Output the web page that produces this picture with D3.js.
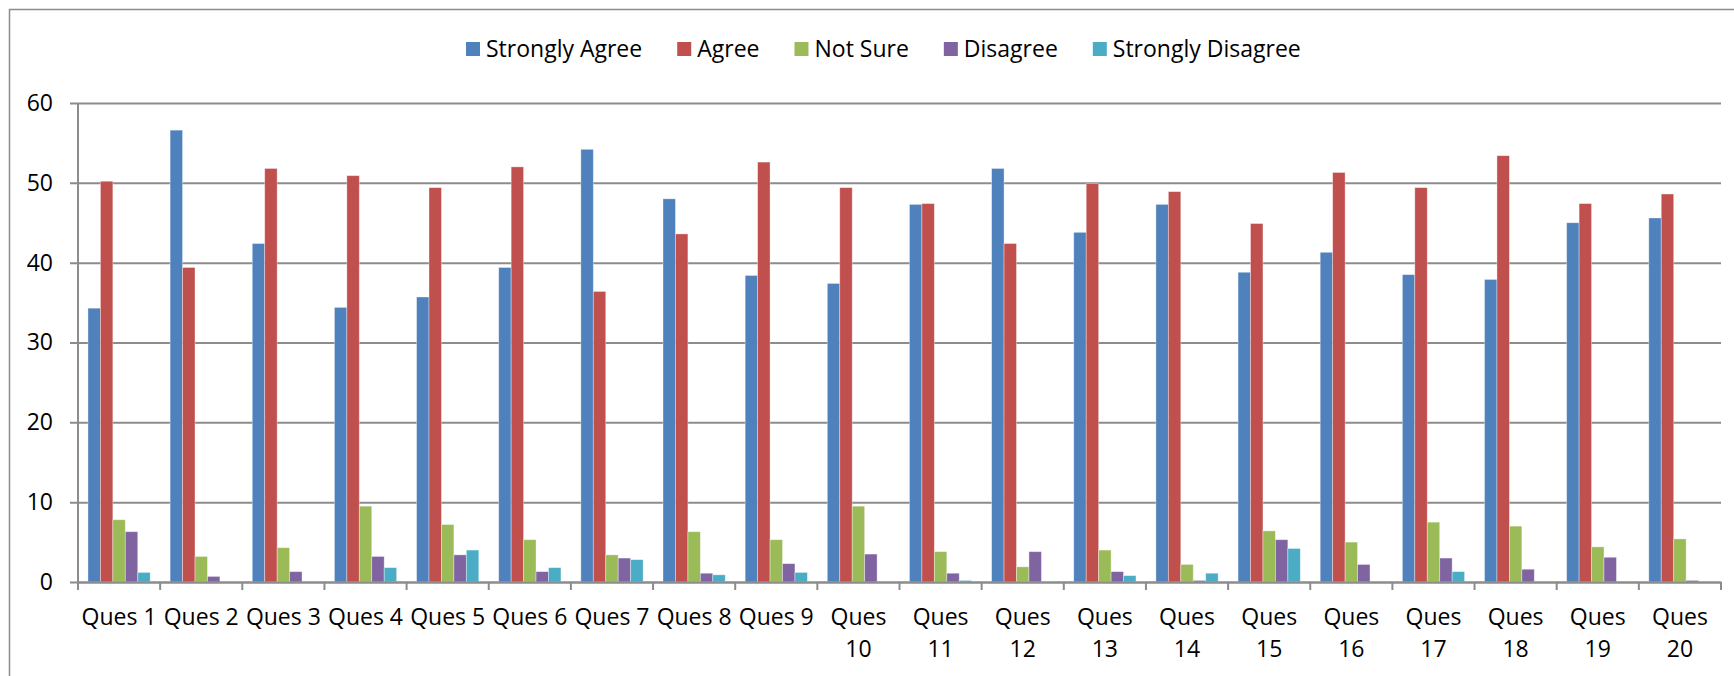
<!DOCTYPE html>
<html>
<head>
<meta charset="utf-8">
<script src="https://cdn.jsdelivr.net/npm/d3@7"></script>
<style>
  html, body { margin: 0; padding: 0; background: #fff; }
  svg { display: block; }
  text { font-family: "Open Sans", "Noto Sans", sans-serif; fill: #000; }
</style>
</head>
<body>
<svg id="chart" width="1734" height="676"></svg>
<script>
const categories = ["Ques 1","Ques 2","Ques 3","Ques 4","Ques 5","Ques 6","Ques 7","Ques 8","Ques 9","Ques 10",
  "Ques 11","Ques 12","Ques 13","Ques 14","Ques 15","Ques 16","Ques 17","Ques 18","Ques 19","Ques 20"];
const seriesNames = ["Strongly Agree","Agree","Not Sure","Disagree","Strongly Disagree"];
const seriesColors = ["#4F81BD","#C0504D","#9BBB59","#8064A2","#4BACC6"];
const stronglyAgree    = [34.3,56.6,42.4,34.4,35.7,39.4,54.2,48.0,38.4,37.4,47.3,51.8,43.8,47.3,38.8,41.3,38.5,37.9,45.0,45.6];
const agree            = [50.2,39.4,51.8,50.9,49.4,52.0,36.4,43.6,52.6,49.4,47.4,42.4,49.9,48.9,44.9,51.3,49.4,53.4,47.4,48.6];
const notSure          = [7.8,3.2,4.3,9.5,7.2,5.3,3.4,6.3,5.3,9.5,3.8,1.9,4.0,2.2,6.4,5.0,7.5,7.0,4.4,5.4];
const disagree         = [6.3,0.7,1.3,3.2,3.4,1.3,3.0,1.1,2.3,3.5,1.1,3.8,1.3,0.2,5.3,2.2,3.0,1.6,3.1,0.2];
const stronglyDisagree = [1.2,0,0,1.8,4.0,1.8,2.8,0.9,1.2,0,0.2,0,0.8,1.1,4.2,0,1.3,0,0,0];
const yTicks = [0,10,20,30,40,50,60];

const seriesValues = [stronglyAgree, agree, notSure, disagree, stronglyDisagree];
const rows = categories.map((c, i) => ({cat: c, vals: seriesValues.map(s => s[i])}));

const svg = d3.select("#chart");
const plotLeft = 78, plotRight = 1721, plotTop = 103, plotBottom = 582;
const FONT = '"Open Sans", "Noto Sans", sans-serif';

// outer frame (right and bottom edges fall outside picture)
svg.append("rect").attr("x", 9.5).attr("y", 9.5).attr("width", 1800).attr("height", 800)
  .attr("fill", "none").attr("stroke", "#8c8c8c").attr("stroke-width", 1.5);

const x0 = d3.scaleBand().domain(categories).range([plotLeft, plotRight]).paddingInner(0).paddingOuter(0);
const x1 = d3.scaleBand().domain(seriesNames).range([0, x0.bandwidth()]).paddingInner(0).paddingOuter(0.8);
const y = d3.scaleLinear().domain([0, 60]).range([plotBottom, plotTop]);
const color = d3.scaleOrdinal().domain(seriesNames).range(seriesColors);

// gridlines + y axis labels
const yAxis = svg.append("g").attr("transform", `translate(${plotLeft},0)`)
  .call(d3.axisLeft(y).tickValues(yTicks).tickSize(0).tickPadding(25));
yAxis.select(".domain").remove();
yAxis.selectAll(".tick line").attr("stroke", "#8c8c8c").attr("stroke-width", 2)
  .attr("x1", -8).attr("x2", plotRight - plotLeft);
yAxis.selectAll(".tick text")
  .style("font-size", "23px").style("font-family", FONT).attr("fill", "#000");

// bars
const groups = svg.append("g").selectAll("g").data(rows).join("g")
  .attr("transform", d => `translate(${x0(d.cat)},0)`);
groups.selectAll("rect").data(d => d.vals.map((v, k) => ({name: seriesNames[k], v})))
  .join("rect")
  .attr("x", d => x1(d.name))
  .attr("y", d => y(d.v))
  .attr("width", x1.bandwidth())
  .attr("height", d => y(0) - y(d.v))
  .attr("fill", d => color(d.name))
  .attr("stroke", d => d.v > 0 ? "rgba(255,255,255,0.45)" : "none")
  .attr("stroke-width", 0.8);

// y axis line
svg.append("line").attr("x1", plotLeft).attr("x2", plotLeft).attr("y1", plotTop).attr("y2", plotBottom)
  .attr("stroke", "#8c8c8c").attr("stroke-width", 2);

// x axis
const xAxis = svg.append("g").attr("transform", `translate(0,${plotBottom})`)
  .call(d3.axisBottom(x0).tickSize(0).tickSizeOuter(0).tickPadding(0));
xAxis.select(".domain").attr("stroke", "#8c8c8c").attr("stroke-width", 2);
// category boundary ticks
const bounds = categories.map(c => x0(c)).concat([plotRight]);
svg.append("g").selectAll("line").data(bounds).join("line")
  .attr("x1", d => d).attr("x2", d => d).attr("y1", plotBottom).attr("y2", plotBottom + 8)
  .attr("stroke", "#8c8c8c").attr("stroke-width", 2);

xAxis.selectAll(".tick text").each(function(d) {
  const t = d3.select(this);
  t.text(null).attr("y", null).attr("dy", null)
    .style("font-size", "23px").style("font-family", FONT).attr("fill", "#000");
  t.append("tspan").attr("x", 0).attr("y", 43).text(d);
  const w = this.getComputedTextLength();
  if (w > x0.bandwidth() - 4) {
    const parts = d.split(" ");
    t.text(null);
    parts.forEach((p, i) => t.append("tspan").attr("x", 0).attr("y", 43 + i * 32).text(p));
  }
});

// legend
const legend = svg.append("g");
let lx = 466;
seriesNames.forEach((name, i) => {
  legend.append("rect").attr("x", lx).attr("y", 42).attr("width", 14).attr("height", 14).attr("fill", seriesColors[i]);
  const t = legend.append("text").attr("x", lx + 20).attr("y", 49).attr("dy", "0.35em")
    .style("font-size", "23px").style("font-family", FONT).text(name);
  lx += 20 + t.node().getComputedTextLength() + 35;
});
</script>
</body>
</html>
